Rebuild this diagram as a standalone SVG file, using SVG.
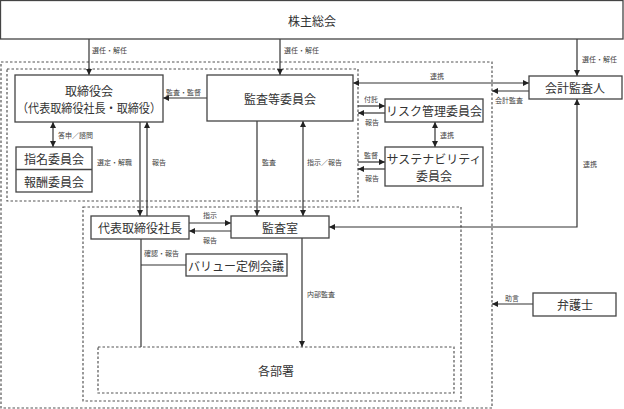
<svg xmlns="http://www.w3.org/2000/svg" width="624" height="409" viewBox="0 0 624 409">
<defs>
<marker id="ah" viewBox="0 0 6 6" refX="6" refY="3" markerWidth="6" markerHeight="6" markerUnits="userSpaceOnUse" orient="auto-start-reverse">
<path d="M0,0 L6,3 L0,6 z" fill="#222"/>
</marker>
<style>
.box{fill:#fff;stroke:#444;stroke-width:1.3}
.dash{fill:none;stroke:#555;stroke-width:1.2;stroke-dasharray:2.5 2}
.t{font-family:"Noto Sans CJK JP","Noto Sans",sans-serif;font-size:12px;fill:#333;text-anchor:middle;dominant-baseline:central}
.l{font-family:"Noto Sans CJK JP","Noto Sans",sans-serif;font-size:7px;fill:#444;dominant-baseline:central}
.c{fill:none;stroke:#333;stroke-width:1.2}
.a{marker-end:url(#ah)}
.b{marker-start:url(#ah);marker-end:url(#ah)}
</style>
</defs>
<g id="groups">
<rect class="dash" x="1" y="62" width="491" height="346"/>
<rect class="dash" x="7" y="69" width="351" height="132"/>
<rect class="dash" x="83" y="207" width="378" height="194"/>
</g>
<g id="connectors">
<line class="c a" x1="89" y1="39" x2="89" y2="75"/>
<line class="c a" x1="280" y1="39" x2="280" y2="75"/>
<line class="c a" x1="577" y1="39" x2="577" y2="76"/>
<line class="c a" x1="207" y1="98" x2="163" y2="98"/>
<line class="c b" x1="53" y1="122" x2="53" y2="147"/>
<line class="c a" x1="140" y1="122" x2="140" y2="216"/>
<line class="c a" x1="147" y1="216" x2="147" y2="122"/>
<line class="c a" x1="257" y1="121" x2="257" y2="216"/>
<line class="c b" x1="303" y1="121" x2="303" y2="216"/>
<line class="c b" x1="353" y1="83" x2="529" y2="83"/>
<line class="c a" x1="529" y1="91" x2="492" y2="91"/>
<line class="c a" x1="358" y1="106" x2="385" y2="106"/>
<line class="c a" x1="385" y1="113" x2="358" y2="113"/>
<line class="c a" x1="358" y1="162" x2="385" y2="162"/>
<line class="c a" x1="385" y1="169" x2="358" y2="169"/>
<line class="c b" x1="435" y1="122" x2="435" y2="147"/>
<polyline class="c b" points="577,99 577,227 329,227"/>
<line class="c a" x1="189" y1="223" x2="231" y2="223"/>
<line class="c a" x1="231" y1="231" x2="189" y2="231"/>
<line class="c" x1="141" y1="239" x2="141" y2="347"/>
<line class="c" x1="141" y1="265" x2="186" y2="265"/>
<line class="c a" x1="302" y1="238" x2="302" y2="347"/>
<line class="c a" x1="533" y1="304" x2="492" y2="304"/>
<text class="l" x="92" y="50">選任・解任</text>
<text class="l" x="284" y="50">選任・解任</text>
<text class="l" x="582" y="59">選任・解任</text>
<text class="l" x="166" y="92">監査・監督</text>
<text class="l" x="58" y="135">答申／諮問</text>
<text class="l" x="97" y="162">選定・解職</text>
<text class="l" x="152" y="162">報告</text>
<text class="l" x="262" y="162">監査</text>
<text class="l" x="307" y="162">指示／報告</text>
<text class="l" x="430" y="76">連携</text>
<text class="l" x="495" y="100">会計監査</text>
<text class="l" x="364" y="99">付託</text>
<text class="l" x="365" y="122">報告</text>
<text class="l" x="364" y="155">監督</text>
<text class="l" x="365" y="178">報告</text>
<text class="l" x="440" y="135">連携</text>
<text class="l" x="583" y="164">連携</text>
<text class="l" x="203" y="215">指示</text>
<text class="l" x="203" y="240">報告</text>
<text class="l" x="144" y="253">確認・報告</text>
<text class="l" x="307" y="294">内部監査</text>
<text class="l" x="505" y="298">助言</text>
</g>
<g id="shareholders">
<rect class="box" x="0.5" y="0.5" width="622.5" height="38.5"/>
<text class="t" x="312" y="20">株主総会</text>
</g>
<g id="board">
<rect class="box" x="15" y="75" width="148" height="47"/>
<text class="t" x="89" y="90.5" font-size="11.5">取締役会</text>
<text class="t" x="89" y="107" font-size="11.5" textLength="144" lengthAdjust="spacingAndGlyphs">（代表取締役社長・取締役）</text>
</g>
<g id="audit-committee">
<rect class="box" x="207" y="75" width="146" height="46"/>
<text class="t" x="280" y="98">監査等委員会</text>
</g>
<g id="risk">
<rect class="box" x="385" y="99" width="98" height="23"/>
<text class="t" x="434" y="110.5">リスク管理委員会</text>
</g>
<g id="sustainability">
<rect class="box" x="385" y="147" width="98" height="39"/>
<text class="t" x="434" y="158" font-size="11.5">サステナビリティ</text>
<text class="t" x="434" y="175" font-size="11.5">委員会</text>
</g>
<g id="accounting-auditor">
<rect class="box" x="529" y="76" width="93" height="23"/>
<text class="t" x="575" y="87.5">会計監査人</text>
</g>
<g id="nomination">
<rect class="box" x="16" y="147" width="76" height="45"/>
<line class="box" x1="16" y1="169.5" x2="92" y2="169.5"/>
<text class="t" x="54" y="158">指名委員会</text>
<text class="t" x="54" y="181">報酬委員会</text>
</g>
<g id="president">
<rect class="box" x="91" y="216" width="98" height="23"/>
<text class="t" x="140" y="227.5">代表取締役社長</text>
</g>
<g id="audit-office">
<rect class="box" x="231" y="216" width="98" height="22"/>
<text class="t" x="280" y="227">監査室</text>
</g>
<g id="value-meeting">
<rect class="box" x="186" y="254" width="101" height="22"/>
<text class="t" x="236" y="265">バリュー定例会議</text>
</g>
<g id="lawyer">
<rect class="box" x="533" y="293" width="83" height="23"/>
<text class="t" x="575" y="304.5">弁護士</text>
</g>
<g id="departments">
<rect class="dash" x="98" y="347" width="356" height="46"/>
<text class="t" x="276" y="370">各部署</text>
</g>
</svg>
